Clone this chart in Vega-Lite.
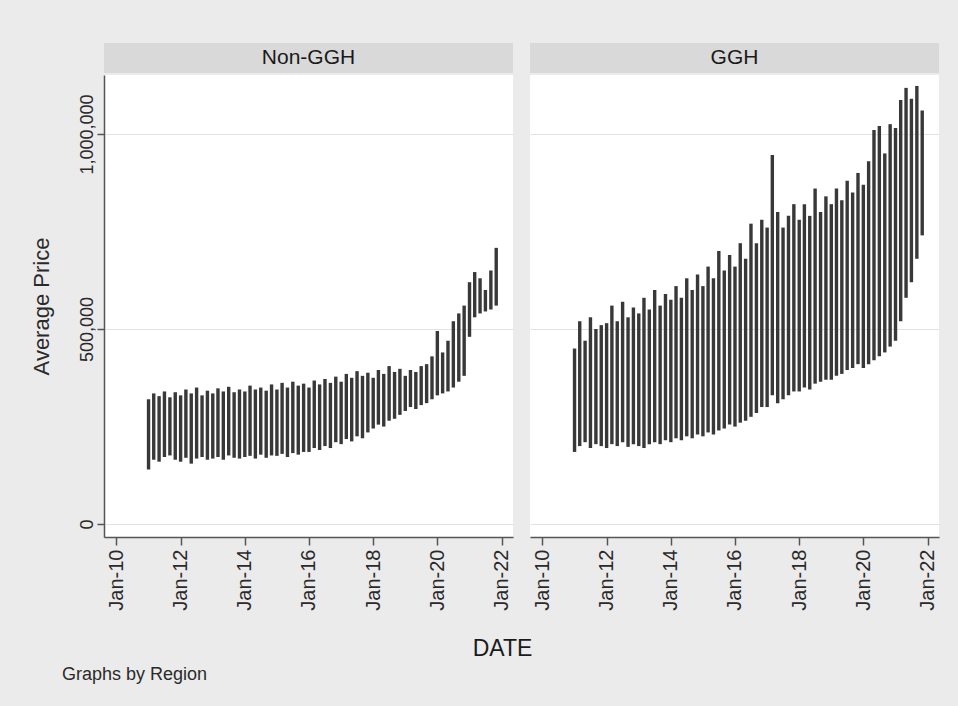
{
  "$schema": "https://vega.github.io/schema/vega-lite/v6.json",
  "background": "#ebebeb",
  "padding": {"left": 29, "top": 43, "right": 29, "bottom": 21},
  "config": {
    "font": "Liberation Sans",
    "view": {"stroke": null},
    "concat": {"spacing": 17},
    "axis": {"labelColor": "#2a2a2a", "titleColor": "#2a2a2a", "labelFont": "Liberation Sans", "titleFont": "Liberation Sans", "titleFontWeight": "normal", "domainColor": "#555555", "tickColor": "#555555", "domainWidth": 1.5, "tickWidth": 1.5, "gridColor": "#e2e2e2", "gridWidth": 1}
  },
  "datasets": {
    "prices": [
      {"r":"Non-GGH","d":"2011-01-01","hi":320000,"lo":140000},
      {"r":"Non-GGH","d":"2011-03-01","hi":335000,"lo":165000},
      {"r":"Non-GGH","d":"2011-05-01","hi":328000,"lo":160000},
      {"r":"Non-GGH","d":"2011-07-01","hi":340000,"lo":172000},
      {"r":"Non-GGH","d":"2011-09-01","hi":325000,"lo":176000},
      {"r":"Non-GGH","d":"2011-11-01","hi":338000,"lo":165000},
      {"r":"Non-GGH","d":"2012-01-01","hi":330000,"lo":160000},
      {"r":"Non-GGH","d":"2012-03-01","hi":345000,"lo":170000},
      {"r":"Non-GGH","d":"2012-05-01","hi":335000,"lo":155000},
      {"r":"Non-GGH","d":"2012-07-01","hi":350000,"lo":168000},
      {"r":"Non-GGH","d":"2012-09-01","hi":330000,"lo":172000},
      {"r":"Non-GGH","d":"2012-11-01","hi":342000,"lo":165000},
      {"r":"Non-GGH","d":"2013-01-01","hi":335000,"lo":168000},
      {"r":"Non-GGH","d":"2013-03-01","hi":348000,"lo":172000},
      {"r":"Non-GGH","d":"2013-05-01","hi":340000,"lo":165000},
      {"r":"Non-GGH","d":"2013-07-01","hi":352000,"lo":176000},
      {"r":"Non-GGH","d":"2013-09-01","hi":338000,"lo":170000},
      {"r":"Non-GGH","d":"2013-11-01","hi":345000,"lo":168000},
      {"r":"Non-GGH","d":"2014-01-01","hi":340000,"lo":172000},
      {"r":"Non-GGH","d":"2014-03-01","hi":355000,"lo":175000},
      {"r":"Non-GGH","d":"2014-05-01","hi":345000,"lo":168000},
      {"r":"Non-GGH","d":"2014-07-01","hi":350000,"lo":178000},
      {"r":"Non-GGH","d":"2014-09-01","hi":342000,"lo":170000},
      {"r":"Non-GGH","d":"2014-11-01","hi":358000,"lo":176000},
      {"r":"Non-GGH","d":"2015-01-01","hi":345000,"lo":175000},
      {"r":"Non-GGH","d":"2015-03-01","hi":362000,"lo":180000},
      {"r":"Non-GGH","d":"2015-05-01","hi":350000,"lo":172000},
      {"r":"Non-GGH","d":"2015-07-01","hi":365000,"lo":182000},
      {"r":"Non-GGH","d":"2015-09-01","hi":355000,"lo":178000},
      {"r":"Non-GGH","d":"2015-11-01","hi":360000,"lo":185000},
      {"r":"Non-GGH","d":"2016-01-01","hi":350000,"lo":185000},
      {"r":"Non-GGH","d":"2016-03-01","hi":368000,"lo":195000},
      {"r":"Non-GGH","d":"2016-05-01","hi":358000,"lo":190000},
      {"r":"Non-GGH","d":"2016-07-01","hi":372000,"lo":200000},
      {"r":"Non-GGH","d":"2016-09-01","hi":362000,"lo":195000},
      {"r":"Non-GGH","d":"2016-11-01","hi":378000,"lo":210000},
      {"r":"Non-GGH","d":"2017-01-01","hi":365000,"lo":205000},
      {"r":"Non-GGH","d":"2017-03-01","hi":385000,"lo":218000},
      {"r":"Non-GGH","d":"2017-05-01","hi":375000,"lo":212000},
      {"r":"Non-GGH","d":"2017-07-01","hi":392000,"lo":225000},
      {"r":"Non-GGH","d":"2017-09-01","hi":380000,"lo":220000},
      {"r":"Non-GGH","d":"2017-11-01","hi":388000,"lo":235000},
      {"r":"Non-GGH","d":"2018-01-01","hi":375000,"lo":245000},
      {"r":"Non-GGH","d":"2018-03-01","hi":395000,"lo":255000},
      {"r":"Non-GGH","d":"2018-05-01","hi":385000,"lo":250000},
      {"r":"Non-GGH","d":"2018-07-01","hi":405000,"lo":265000},
      {"r":"Non-GGH","d":"2018-09-01","hi":390000,"lo":270000},
      {"r":"Non-GGH","d":"2018-11-01","hi":398000,"lo":280000},
      {"r":"Non-GGH","d":"2019-01-01","hi":380000,"lo":290000},
      {"r":"Non-GGH","d":"2019-03-01","hi":395000,"lo":300000},
      {"r":"Non-GGH","d":"2019-05-01","hi":390000,"lo":295000},
      {"r":"Non-GGH","d":"2019-07-01","hi":405000,"lo":305000},
      {"r":"Non-GGH","d":"2019-09-01","hi":410000,"lo":310000},
      {"r":"Non-GGH","d":"2019-11-01","hi":430000,"lo":320000},
      {"r":"Non-GGH","d":"2020-01-01","hi":495000,"lo":330000},
      {"r":"Non-GGH","d":"2020-03-01","hi":440000,"lo":335000},
      {"r":"Non-GGH","d":"2020-05-01","hi":470000,"lo":340000},
      {"r":"Non-GGH","d":"2020-07-01","hi":520000,"lo":350000},
      {"r":"Non-GGH","d":"2020-09-01","hi":540000,"lo":365000},
      {"r":"Non-GGH","d":"2020-11-01","hi":560000,"lo":380000},
      {"r":"Non-GGH","d":"2021-01-01","hi":620000,"lo":480000},
      {"r":"Non-GGH","d":"2021-03-01","hi":646000,"lo":530000},
      {"r":"Non-GGH","d":"2021-05-01","hi":630000,"lo":540000},
      {"r":"Non-GGH","d":"2021-07-01","hi":600000,"lo":545000},
      {"r":"Non-GGH","d":"2021-09-01","hi":650000,"lo":550000},
      {"r":"Non-GGH","d":"2021-11-01","hi":708000,"lo":560000},
      {"r":"GGH","d":"2011-01-01","hi":450000,"lo":185000},
      {"r":"GGH","d":"2011-03-01","hi":520000,"lo":200000},
      {"r":"GGH","d":"2011-05-01","hi":470000,"lo":210000},
      {"r":"GGH","d":"2011-07-01","hi":530000,"lo":195000},
      {"r":"GGH","d":"2011-09-01","hi":500000,"lo":205000},
      {"r":"GGH","d":"2011-11-01","hi":510000,"lo":200000},
      {"r":"GGH","d":"2012-01-01","hi":515000,"lo":195000},
      {"r":"GGH","d":"2012-03-01","hi":560000,"lo":205000},
      {"r":"GGH","d":"2012-05-01","hi":520000,"lo":200000},
      {"r":"GGH","d":"2012-07-01","hi":570000,"lo":210000},
      {"r":"GGH","d":"2012-09-01","hi":530000,"lo":198000},
      {"r":"GGH","d":"2012-11-01","hi":555000,"lo":205000},
      {"r":"GGH","d":"2013-01-01","hi":540000,"lo":200000},
      {"r":"GGH","d":"2013-03-01","hi":580000,"lo":195000},
      {"r":"GGH","d":"2013-05-01","hi":550000,"lo":205000},
      {"r":"GGH","d":"2013-07-01","hi":600000,"lo":210000},
      {"r":"GGH","d":"2013-09-01","hi":560000,"lo":205000},
      {"r":"GGH","d":"2013-11-01","hi":590000,"lo":215000},
      {"r":"GGH","d":"2014-01-01","hi":575000,"lo":210000},
      {"r":"GGH","d":"2014-03-01","hi":610000,"lo":220000},
      {"r":"GGH","d":"2014-05-01","hi":580000,"lo":215000},
      {"r":"GGH","d":"2014-07-01","hi":630000,"lo":225000},
      {"r":"GGH","d":"2014-09-01","hi":600000,"lo":220000},
      {"r":"GGH","d":"2014-11-01","hi":640000,"lo":230000},
      {"r":"GGH","d":"2015-01-01","hi":610000,"lo":225000},
      {"r":"GGH","d":"2015-03-01","hi":660000,"lo":235000},
      {"r":"GGH","d":"2015-05-01","hi":630000,"lo":230000},
      {"r":"GGH","d":"2015-07-01","hi":700000,"lo":240000},
      {"r":"GGH","d":"2015-09-01","hi":650000,"lo":245000},
      {"r":"GGH","d":"2015-11-01","hi":690000,"lo":255000},
      {"r":"GGH","d":"2016-01-01","hi":660000,"lo":250000},
      {"r":"GGH","d":"2016-03-01","hi":720000,"lo":260000},
      {"r":"GGH","d":"2016-05-01","hi":680000,"lo":265000},
      {"r":"GGH","d":"2016-07-01","hi":770000,"lo":275000},
      {"r":"GGH","d":"2016-09-01","hi":720000,"lo":285000},
      {"r":"GGH","d":"2016-11-01","hi":780000,"lo":300000},
      {"r":"GGH","d":"2017-01-01","hi":760000,"lo":300000},
      {"r":"GGH","d":"2017-03-01","hi":946000,"lo":330000},
      {"r":"GGH","d":"2017-05-01","hi":800000,"lo":310000},
      {"r":"GGH","d":"2017-07-01","hi":760000,"lo":320000},
      {"r":"GGH","d":"2017-09-01","hi":790000,"lo":330000},
      {"r":"GGH","d":"2017-11-01","hi":820000,"lo":340000},
      {"r":"GGH","d":"2018-01-01","hi":780000,"lo":340000},
      {"r":"GGH","d":"2018-03-01","hi":820000,"lo":350000},
      {"r":"GGH","d":"2018-05-01","hi":790000,"lo":345000},
      {"r":"GGH","d":"2018-07-01","hi":860000,"lo":360000},
      {"r":"GGH","d":"2018-09-01","hi":800000,"lo":365000},
      {"r":"GGH","d":"2018-11-01","hi":840000,"lo":370000},
      {"r":"GGH","d":"2019-01-01","hi":820000,"lo":370000},
      {"r":"GGH","d":"2019-03-01","hi":860000,"lo":380000},
      {"r":"GGH","d":"2019-05-01","hi":830000,"lo":385000},
      {"r":"GGH","d":"2019-07-01","hi":880000,"lo":395000},
      {"r":"GGH","d":"2019-09-01","hi":850000,"lo":400000},
      {"r":"GGH","d":"2019-11-01","hi":900000,"lo":410000},
      {"r":"GGH","d":"2020-01-01","hi":870000,"lo":400000},
      {"r":"GGH","d":"2020-03-01","hi":930000,"lo":410000},
      {"r":"GGH","d":"2020-05-01","hi":1010000,"lo":420000},
      {"r":"GGH","d":"2020-07-01","hi":1020000,"lo":430000},
      {"r":"GGH","d":"2020-09-01","hi":950000,"lo":440000},
      {"r":"GGH","d":"2020-11-01","hi":1025000,"lo":455000},
      {"r":"GGH","d":"2021-01-01","hi":1015000,"lo":470000},
      {"r":"GGH","d":"2021-03-01","hi":1087000,"lo":520000},
      {"r":"GGH","d":"2021-05-01","hi":1118000,"lo":580000},
      {"r":"GGH","d":"2021-07-01","hi":1090000,"lo":620000},
      {"r":"GGH","d":"2021-09-01","hi":1123000,"lo":680000},
      {"r":"GGH","d":"2021-11-01","hi":1060000,"lo":740000}
    ]
  },
  "title": {"text": "Graphs by Region", "orient": "bottom", "anchor": "start", "fontSize": 18, "fontWeight": "normal", "color": "#2a2a2a", "dx": 32, "offset": 5},
  "vconcat": [
    {
      "title": {"text": "DATE", "orient": "bottom", "anchor": "middle", "fontSize": 23, "fontWeight": "normal", "color": "#1a1a1a", "offset": 28, "dx": 18},
      "hconcat": [
        {
          "spacing": 2,
          "vconcat": [
            {
              "width": 409, "height": 30,
              "view": {"fill": "#d9d9d9", "stroke": null},
              "data": {"values": [{"lab": "Non-GGH"}]},
              "mark": {"type": "text", "fontSize": 21, "color": "#1a1a1a", "baseline": "middle"},
              "encoding": {"text": {"field": "lab"}}
            },
            {
              "width": 409, "height": 462,
              "view": {"fill": "white", "stroke": null},
              "data": {"name": "prices"},
              "transform": [{"filter": "datum.r === 'Non-GGH'"}],
              "mark": {"type": "rule", "color": "#383838", "strokeWidth": 3.4},
              "encoding": {
                "x": {"field": "d", "type": "temporal",
                  "scale": {"type": "utc", "domain": [{"year": 2009, "month": 8, "date": 12, "utc": true}, {"year": 2022, "month": 5, "date": 11, "utc": true}]},
                  "axis": {"title": null, "format": "%b-%y", "labelAngle": -90, "labelAlign": "right", "labelBaseline": "middle", "labelFontSize": 20, "tickSize": 8, "labelPadding": 4, "grid": false,
                    "values": [{"year": 2010, "month": 1, "date": 1, "utc": true}, {"year": 2012, "month": 1, "date": 1, "utc": true}, {"year": 2014, "month": 1, "date": 1, "utc": true}, {"year": 2016, "month": 1, "date": 1, "utc": true}, {"year": 2018, "month": 1, "date": 1, "utc": true}, {"year": 2020, "month": 1, "date": 1, "utc": true}, {"year": 2022, "month": 1, "date": 1, "utc": true}]}},
                "y": {"field": "hi", "type": "quantitative",
                  "scale": {"domain": [-33000, 1151000], "nice": false, "zero": false},
                  "axis": {"title": "Average Price", "titleFontSize": 22, "titlePadding": 25, "values": [0, 500000, 1000000], "format": ",d", "labelAngle": -90, "labelAlign": "center", "labelBaseline": "bottom", "labelFontSize": 18, "tickSize": 7, "labelPadding": 1, "grid": true}},
                "y2": {"field": "lo"}
              }
            }
          ]
        },
        {
          "spacing": 2,
          "vconcat": [
            {
              "width": 409, "height": 30,
              "view": {"fill": "#d9d9d9", "stroke": null},
              "data": {"values": [{"lab": "GGH"}]},
              "mark": {"type": "text", "fontSize": 21, "color": "#1a1a1a", "baseline": "middle"},
              "encoding": {"text": {"field": "lab"}}
            },
            {
              "width": 409, "height": 462,
              "view": {"fill": "white", "stroke": null},
              "data": {"name": "prices"},
              "transform": [{"filter": "datum.r === 'GGH'"}],
              "mark": {"type": "rule", "color": "#383838", "strokeWidth": 3.4},
              "encoding": {
                "x": {"field": "d", "type": "temporal",
                  "scale": {"type": "utc", "domain": [{"year": 2009, "month": 8, "date": 12, "utc": true}, {"year": 2022, "month": 5, "date": 11, "utc": true}]},
                  "axis": {"title": null, "format": "%b-%y", "labelAngle": -90, "labelAlign": "right", "labelBaseline": "middle", "labelFontSize": 20, "tickSize": 8, "labelPadding": 4, "grid": false,
                    "values": [{"year": 2010, "month": 1, "date": 1, "utc": true}, {"year": 2012, "month": 1, "date": 1, "utc": true}, {"year": 2014, "month": 1, "date": 1, "utc": true}, {"year": 2016, "month": 1, "date": 1, "utc": true}, {"year": 2018, "month": 1, "date": 1, "utc": true}, {"year": 2020, "month": 1, "date": 1, "utc": true}, {"year": 2022, "month": 1, "date": 1, "utc": true}]}},
                "y": {"field": "hi", "type": "quantitative",
                  "scale": {"domain": [-33000, 1151000], "nice": false, "zero": false},
                  "axis": {"title": null, "values": [0, 500000, 1000000], "labels": false, "ticks": false, "domain": false, "grid": true}},
                "y2": {"field": "lo"}
              }
            }
          ]
        }
      ]
    }
  ]
}
